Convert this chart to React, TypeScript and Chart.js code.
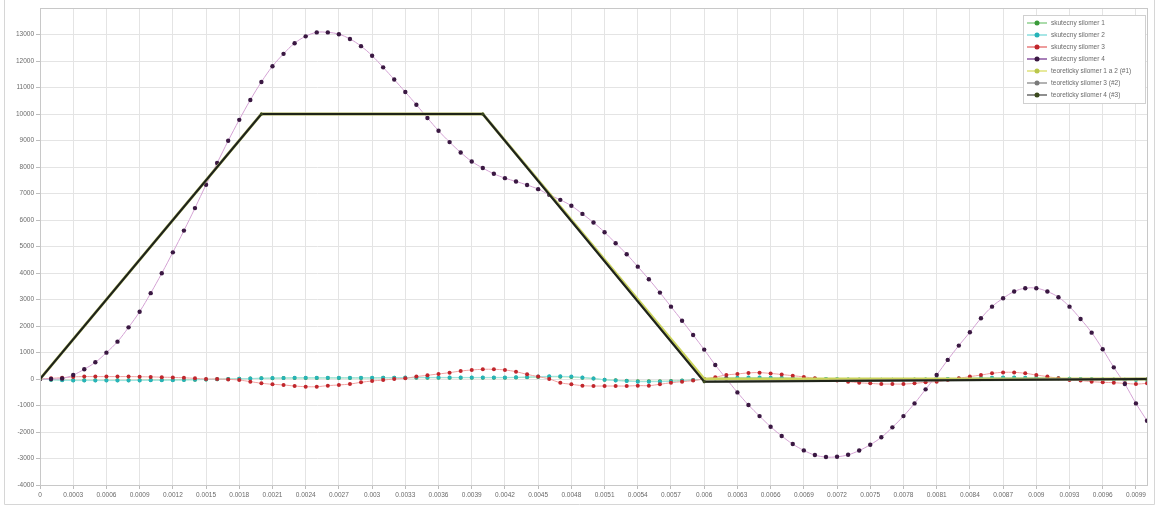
import React, { useEffect, useRef } from "react";
import { Chart, registerables } from "chart.js";

Chart.register(...registerables);

// x positions of measured samples (seconds)
const X_VALUES = [
  0, 0.0001, 0.0002, 0.0003, 0.0004, 0.0005, 0.0006, 0.0007, 0.0008, 0.0009,
  0.001, 0.0011, 0.0012, 0.0013, 0.0014, 0.0015, 0.0016, 0.0017, 0.0018, 0.0019,
  0.002, 0.0021, 0.0022, 0.0023, 0.0024, 0.0025, 0.0026, 0.0027, 0.0028, 0.0029,
  0.003, 0.0031, 0.0032, 0.0033, 0.0034, 0.0035, 0.0036, 0.0037, 0.0038, 0.0039,
  0.004, 0.0041, 0.0042, 0.0043, 0.0044, 0.0045, 0.0046, 0.0047, 0.0048, 0.0049,
  0.005, 0.0051, 0.0052, 0.0053, 0.0054, 0.0055, 0.0056, 0.0057, 0.0058, 0.0059,
  0.006, 0.0061, 0.0062, 0.0063, 0.0064, 0.0065, 0.0066, 0.0067, 0.0068, 0.0069,
  0.007, 0.0071, 0.0072, 0.0073, 0.0074, 0.0075, 0.0076, 0.0077, 0.0078, 0.0079,
  0.008, 0.0081, 0.0082, 0.0083, 0.0084, 0.0085, 0.0086, 0.0087, 0.0088, 0.0089,
  0.009, 0.0091, 0.0092, 0.0093, 0.0094, 0.0095, 0.0096, 0.0097, 0.0098, 0.0099,
  0.01,
];

const X_TICKS = [
  0, 0.0003, 0.0006, 0.0009, 0.0012, 0.0015, 0.0018, 0.0021, 0.0024, 0.0027,
  0.003, 0.0033, 0.0036, 0.0039, 0.0042, 0.0045, 0.0048, 0.0051, 0.0054, 0.0057,
  0.006, 0.0063, 0.0066, 0.0069, 0.0072, 0.0075, 0.0078, 0.0081, 0.0084, 0.0087,
  0.009, 0.0093, 0.0096, 0.0099,
];
const X_TICK_LABELS = [
  "0", "0.0003", "0.0006", "0.0009", "0.0012", "0.0015", "0.0018", "0.0021", "0.0024", "0.0027",
  "0.003", "0.0033", "0.0036", "0.0039", "0.0042", "0.0045", "0.0048", "0.0051", "0.0054", "0.0057",
  "0.006", "0.0063", "0.0066", "0.0069", "0.0072", "0.0075", "0.0078", "0.0081", "0.0084", "0.0087",
  "0.009", "0.0093", "0.0096", "0.0099",
];
const Y_TICKS = [
  -4000, -3000, -2000, -1000, 0, 1000, 2000, 3000, 4000, 5000, 6000, 7000, 8000,
  9000, 10000, 11000, 12000, 13000,
];

const SERIES_NAMES = [
  "skutecny silomer 1",
  "skutecny silomer 2",
  "skutecny silomer 3",
  "skutecny silomer 4",
  "teoreticky silomer 1 a 2 (#1)",
  "teoreticky silomer 3 (#2)",
  "teoreticky silomer 4 (#3)",
];

const SILOMER_1 = [
  0, -25, -40, -50, -50, -50, -50, -50, -50, -45,
  -40, -40, -35, -30, -25, -15, -10, 0, 10, 15,
  25, 30, 35, 40, 40, 40, 40, 40, 40, 40,
  40, 45, 45, 45, 50, 50, 50, 50, 50, 50,
  50, 50, 50, 55, 65, 75, 85, 85, 75, 50,
  15, -25, -50, -70, -85, -85, -85, -75, -60, -35,
  -10, 15, 35, 40, 45, 45, 40, 35, 25, 15,
  10, 0, -10, -15, -20, -25, -25, -25, -25, -20,
  -15, -10, 0, 10, 25, 35, 40, 45, 45, 40,
  35, 30, 20, 10, 0, -10, -15, -20, -25, -25,
  -25,
];

const SILOMER_2 = [
  0, -30, -50, -60, -60, -60, -60, -60, -60, -55,
  -50, -50, -45, -40, -30, -20, -10, 0, 10, 20,
  30, 35, 40, 45, 45, 45, 45, 45, 45, 45,
  45, 50, 50, 55, 60, 60, 60, 60, 60, 60,
  60, 60, 60, 65, 75, 90, 100, 100, 90, 60,
  20, -30, -60, -80, -100, -100, -100, -90, -70, -40,
  -10, 20, 40, 50, 55, 55, 50, 40, 30, 20,
  10, 0, -10, -20, -25, -30, -30, -30, -30, -25,
  -20, -10, 0, 15, 30, 40, 50, 55, 55, 50,
  45, 35, 25, 10, 0, -10, -20, -25, -30, -30,
  -30,
];

const SILOMER_3 = [
  0, 25, 50, 80, 90, 90, 90, 90, 90, 85,
  80, 70, 60, 45, 25, 0, 0, -15, -40, -100,
  -160, -200, -225, -265, -290, -290, -250, -225, -190, -125,
  -75, -40, 0, 25, 90, 140, 190, 240, 300, 340,
  365, 365, 340, 275, 175, 90, 0, -140, -200, -250,
  -265, -265, -265, -265, -250, -250, -200, -140, -100, -60,
  0, 70, 150, 190, 230, 240, 210, 170, 125, 80,
  25, -40, -60, -100, -140, -165, -190, -190, -190, -165,
  -125, -100, -40, 25, 90, 150, 215, 250, 250, 215,
  150, 90, 25, -40, -60, -100, -125, -140, -165, -190,
  -165,
];

const SILOMER_4 = [
  0, 0, 20, 150, 370, 630, 995, 1410, 1950, 2540,
  3240, 3990, 4780, 5600, 6450, 7330, 8150, 8990, 9780, 10530,
  11210, 11800, 12270, 12670, 12930, 13080, 13080, 13010, 12830, 12560,
  12200, 11760, 11300, 10830, 10350, 9850, 9370, 8940, 8550, 8210,
  7960, 7745, 7580, 7455, 7320, 7165, 6950, 6760, 6535, 6230,
  5905, 5540, 5125, 4710, 4240, 3765, 3260, 2730, 2200, 1660,
  1110, 530, 10, -505, -980, -1400, -1800, -2150, -2455, -2695,
  -2870, -2945, -2935, -2860, -2700, -2480, -2200, -1825, -1400, -920,
  -390, 150, 720, 1260, 1765, 2290, 2730, 3045, 3300, 3425,
  3425, 3300, 3085, 2730, 2265, 1750, 1120, 440, -190, -920,
  -1575,
];

const THEO_X = [0, 0.002, 0.004, 0.006, 0.01];
const THEO_1_2 = [0, 10000, 10000, 0, 0];
const THEO_3 = [0, 10000, 10000, -100, 0];
const THEO_4 = [0, 10000, 10000, -100, 0];

const FONT = { family: "'Liberation Sans', Arial, sans-serif", size: 6.5 };
const TEXT_COLOR = "#6a6a6a";

const STYLES = [
  { line: "#9ad89a", legendLine: "#8fd18f", marker: "#3a9a3a", width: 1, radius: 2, tension: 0.4 },
  { line: "#9fe6e6", legendLine: "#8adede", marker: "#26b3b8", width: 1, radius: 2, tension: 0.4 },
  { line: "#f2a0a0", legendLine: "#e87c7c", marker: "#c0262c", width: 1, radius: 2, tension: 0.4 },
  { line: "#d4a2d4", legendLine: "#8a55a0", marker: "#3a1842", width: 1, radius: 2.2, tension: 0.4 },
  { line: "#cbd45a", legendLine: "#dfe27a", marker: "#b9c64c", width: 2.8, radius: 1.5, tension: 0 },
  { line: "#8a8a8a", legendLine: "#9a9a9a", marker: "#7a7a7a", width: 2.4, radius: 1.5, tension: 0 },
  { line: "#1f2418", legendLine: "#6a6a6a", marker: "#3c4a1e", width: 2, radius: 1.5, tension: 0 },
];

const frameAndLegend = {
  id: "frameAndLegend",
  afterDraw(chart: any) {
    const ctx = chart.ctx;
    const a = chart.chartArea;
    ctx.save();
    // plot area border
    ctx.strokeStyle = "#c8c8c8";
    ctx.lineWidth = 1;
    ctx.strokeRect(Math.round(a.left) + 0.5, Math.round(a.top) + 0.5, Math.round(a.right - a.left), Math.round(a.bottom - a.top));
    // outer chart border
    ctx.strokeStyle = "#d6d6d6";
    ctx.beginPath();
    ctx.moveTo(4.5, 0);
    ctx.lineTo(4.5, 504.5);
    ctx.lineTo(1154.5, 504.5);
    ctx.lineTo(1154.5, 0);
    ctx.stroke();

    // legend
    const bx = 1023, by = 15, bw = 122, bh = 88;
    ctx.fillStyle = "#ffffff";
    ctx.fillRect(bx, by, bw, bh);
    ctx.strokeStyle = "#d0d0d0";
    ctx.strokeRect(bx + 0.5, by + 0.5, bw, bh);
    ctx.font = `${FONT.size}px ${FONT.family}`;
    ctx.textBaseline = "middle";
    ctx.textAlign = "left";
    chart.data.datasets.forEach((ds: any, i: number) => {
      const st = STYLES[i];
      const y = by + 8 + i * 12;
      ctx.strokeStyle = st.legendLine;
      ctx.lineWidth = 1.5;
      ctx.beginPath();
      ctx.moveTo(bx + 4, y);
      ctx.lineTo(bx + 24, y);
      ctx.stroke();
      ctx.fillStyle = st.marker;
      ctx.beginPath();
      ctx.arc(bx + 14, y, 2.5, 0, Math.PI * 2);
      ctx.fill();
      ctx.fillStyle = TEXT_COLOR;
      ctx.fillText(ds.label, bx + 28, y);
    });
    ctx.restore();
  },
};

export default function App() {
  const ref = useRef<HTMLCanvasElement | null>(null);

  useEffect(() => {
    if (!ref.current) return;
    const measured = [SILOMER_1, SILOMER_2, SILOMER_3, SILOMER_4];
    const theo = [THEO_1_2, THEO_3, THEO_4];
    const datasets: any[] = [];
    measured.forEach((vals, i) => {
      const st = STYLES[i];
      datasets.push({
        label: SERIES_NAMES[i],
        data: vals.map((v, k) => ({ x: X_VALUES[k], y: v })),
        borderColor: st.line,
        backgroundColor: st.marker,
        pointBackgroundColor: st.marker,
        pointBorderColor: st.marker,
        pointRadius: st.radius,
        pointBorderWidth: 0,
        borderWidth: st.width,
        tension: st.tension,
        order: 10 - i,
      });
    });
    theo.forEach((vals, j) => {
      const i = j + 4;
      const st = STYLES[i];
      datasets.push({
        label: SERIES_NAMES[i],
        data: vals.map((v, k) => ({ x: THEO_X[k], y: v })),
        borderColor: st.line,
        backgroundColor: st.marker,
        pointBackgroundColor: st.marker,
        pointBorderColor: st.marker,
        pointRadius: st.radius,
        pointBorderWidth: 0,
        borderWidth: st.width,
        tension: 0,
        order: 10 - i,
      });
    });

    const chart = new Chart(ref.current, {
      type: "line",
      data: { datasets },
      plugins: [frameAndLegend],
      options: {
        animation: false,
        responsive: false,
        maintainAspectRatio: false,
        devicePixelRatio: 1,
        layout: { padding: { top: 8, right: 13, left: 0, bottom: 0 } },
        plugins: { legend: { display: false }, tooltip: { enabled: false } },
        scales: {
          x: {
            type: "linear",
            min: 0,
            max: 0.01,
            afterBuildTicks: (s: any) => {
              s.ticks = X_TICKS.map((v) => ({ value: v }));
            },
            afterFit: (s: any) => {
              s.height = 21;
            },
            ticks: {
              autoSkip: false,
              maxRotation: 0,
              minRotation: 0,
              padding: 2,
              font: FONT,
              color: TEXT_COLOR,
              callback: (_v: any, i: number) => X_TICK_LABELS[i],
            },
            grid: { color: "#e4e4e4", tickLength: 4, tickColor: "#bdbdbd", lineWidth: 1 },
            border: { color: "#bdbdbd" },
          },
          y: {
            type: "linear",
            min: -4000,
            max: 14000,
            afterBuildTicks: (s: any) => {
              s.ticks = Y_TICKS.map((v) => ({ value: v }));
            },
            afterFit: (s: any) => {
              s.width = 40;
            },
            ticks: {
              padding: 2,
              font: FONT,
              color: TEXT_COLOR,
              callback: (v: any) => String(v),
            },
            grid: { color: "#e4e4e4", tickLength: 4, tickColor: "#bdbdbd", lineWidth: 1 },
            border: { color: "#bdbdbd" },
          },
        },
      },
    } as any);
    return () => chart.destroy();
  }, []);

  return (
    <div style={{ position: "fixed", left: 0, top: 0, width: 1160, height: 506, background: "#ffffff" }}>
      <canvas ref={ref} width={1160} height={506} style={{ width: 1160, height: 506, display: "block" }} />
    </div>
  );
}
